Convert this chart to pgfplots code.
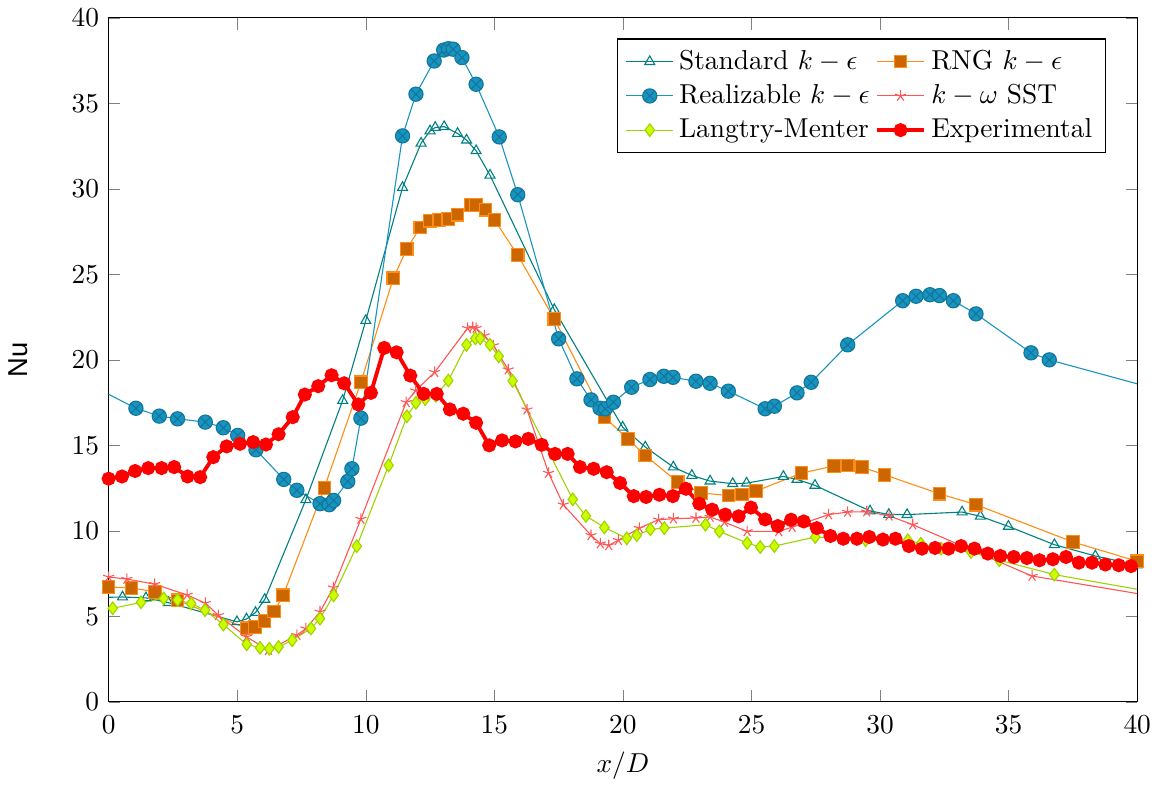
\documentclass[border=0pt]{standalone}
\usepackage{fontspec}
\usepackage{pgfplots}
\pgfplotsset{compat=1.18}
\newfontfamily\nufont{Liberation Sans}
\definecolor{stdke}{RGB}{0,128,128}
\definecolor{realke}{RGB}{23,148,192}
\definecolor{rngline}{RGB}{255,140,20}
\definecolor{rngfill}{RGB}{204,102,0}
\definecolor{sstc}{RGB}{255,85,85}
\definecolor{lmline}{RGB}{160,210,0}
\definecolor{lmfill}{RGB}{204,255,0}
\begin{document}
\begin{tikzpicture}
\begin{axis}[
  scale only axis,
  width=376pt, height=250pt,
  xmin=0, xmax=40, ymin=0, ymax=40,
  xtick={0,5,...,40}, ytick={0,5,...,40},
  xlabel={$x/D$}, ylabel={\nufont Nu},
  ylabel shift=9pt,
  xticklabel style={yshift=-1.5pt},
  legend columns=2,
  legend pos=north east,
  legend cell align=left,
]
\addplot[color=stdke, mark=triangle, mark size=2.1pt, mark options={solid,fill=white}] coordinates {
(-0.5,6.1) (0.54,6.13) (1.45,6.08) (2.32,5.8) (4.99,4.68) (5.36,4.84) (5.71,5.22) (6.07,5.99) (7.67,11.82) (9.1,17.62) (10.0,22.3)
(11.43,30.08) (12.15,32.67) (12.5,33.39) (12.7,33.59) (13.05,33.64) (13.57,33.24) (13.92,32.85) (14.29,32.23) (14.83,30.8)
(17.33,22.94) (19.99,16.06) (20.87,14.9) (21.96,13.73) (22.68,13.24) (23.39,12.91) (24.27,12.76) (24.81,12.79) (26.24,13.18)
(26.77,13.01) (27.47,12.66) (29.61,11.16) (30.34,10.96) (31.05,10.95) (33.19,11.1) (33.9,10.85) (34.99,10.26) (36.78,9.19)
(38.37,8.53) (40,8.0)
};
\addlegendentry{Standard $k-\epsilon$}
\addplot[color=rngline, mark=square*, mark size=2.3pt, mark options={fill=rngfill, draw=rngline}] coordinates {
(0,6.72) (0.89,6.66) (1.8,6.43) (2.68,5.94) (5.36,4.3) (5.7,4.38) (6.06,4.72) (6.43,5.28) (6.79,6.23) (8.39,12.52) (9.81,18.69)
(11.07,24.77) (11.59,26.48) (12.12,27.75) (12.5,28.14) (12.86,28.19) (13.21,28.23) (13.57,28.49) (14.09,29.05) (14.29,29.05)
(14.65,28.78) (15.0,28.19) (15.91,26.13) (17.33,22.39) (19.28,16.65) (20.19,15.38) (20.87,14.41) (22.13,12.85) (23.04,12.21)
(24.1,12.07) (24.63,12.13) (25.18,12.33) (26.95,13.38) (28.2,13.79) (28.74,13.83) (29.29,13.73) (30.17,13.28) (32.31,12.17)
(33.73,11.53) (37.5,9.35) (40,8.22)
};
\addlegendentry{RNG $k-\epsilon$}
\addplot[color=realke, mark=otimes*, mark size=2.6pt, mark options={fill=realke, draw=realke!80!black}] coordinates {
(-0.5,18.37) (1.06,17.17) (1.97,16.71) (2.68,16.55) (3.76,16.36) (4.46,16.03) (5.02,15.58) (5.73,14.74) (6.81,13.01) (7.32,12.37)
(8.22,11.59) (8.58,11.53) (8.75,11.78) (9.3,12.89) (9.46,13.63) (9.81,16.59) (11.43,33.1) (11.95,35.54) (12.66,37.48) (13.03,38.12)
(13.22,38.2) (13.4,38.17) (13.74,37.68) (14.29,36.12) (15.19,33.04) (15.91,29.66) (17.5,21.23) (18.21,18.89) (18.76,17.66)
(19.11,17.17) (19.32,17.14) (19.63,17.52) (20.34,18.4) (21.05,18.85) (21.59,19.04) (21.95,18.98) (22.84,18.75) (23.39,18.63)
(24.1,18.17) (25.53,17.14) (25.89,17.29) (26.77,18.07) (27.32,18.69) (28.74,20.88) (30.88,23.46) (31.4,23.72) (31.94,23.81)
(32.31,23.76) (32.85,23.46) (33.73,22.69) (35.87,20.41) (36.58,20.0) (42,17.78)
};
\addlegendentry{Realizable $k-\epsilon$}
\addplot[color=sstc, mark=star, mark size=2.1pt] coordinates {
(0,7.3) (0.71,7.18) (1.79,6.88) (3.05,6.25) (3.76,5.77) (4.27,5.06) (5.36,3.8) (6.22,3.02) (7.32,3.9) (7.67,4.28) (8.22,5.26)
(8.74,6.68) (9.81,10.69) (11.57,17.52) (11.94,18.2) (12.68,19.28) (13.96,21.85) (14.16,21.9) (14.29,21.85) (14.61,21.42)
(14.96,20.84) (15.54,19.43) (16.27,17.09) (17.11,13.38) (17.68,11.53) (18.76,9.74) (19.12,9.25) (19.45,9.15) (19.82,9.45)
(20.64,10.16) (21.39,10.65) (21.96,10.71) (22.84,10.75) (23.39,10.81) (23.95,10.51) (24.83,9.97) (26.06,9.97) (26.58,10.22)
(28.0,10.95) (28.74,11.1) (29.48,11.12) (30.35,10.88) (31.27,10.36) (35.91,7.36) (42,5.83)
};
\addlegendentry{$k-\omega$ SST}
\addplot[color=lmline, mark=diamond*, mark size=2.3pt, mark options={fill=lmfill, draw=lmline}] coordinates {
(0.16,5.47) (1.26,5.82) (2.14,6.05) (2.68,5.96) (3.21,5.75) (3.75,5.36) (4.46,4.52) (5.37,3.36) (5.89,3.16) (6.25,3.1) (6.61,3.21)
(7.14,3.6) (7.87,4.29) (8.22,4.87) (8.75,6.23) (9.65,9.1) (10.89,13.83) (11.6,16.7) (11.95,17.49) (12.31,17.7) (12.72,17.9)
(13.21,18.79) (13.92,20.88) (14.26,21.26) (14.45,21.26) (14.83,20.88) (15.17,20.21) (15.71,18.77) (18.05,11.84) (18.56,10.87)
(19.28,10.2) (20.15,9.56) (20.54,9.74) (21.07,10.09) (21.61,10.16) (23.21,10.36) (23.75,9.97) (24.83,9.29) (25.34,9.05)
(25.89,9.11) (27.48,9.64) (29.44,9.45) (31.08,9.45) (31.59,9.25) (32.37,8.96) (33.54,8.76) (34.64,8.28) (36.78,7.44) (42,6.05)
};
\addlegendentry{Langtry-Menter}
\addplot[color=red, line width=1.4pt, mark=*, mark size=1.85pt, mark options={fill=red}] coordinates {
(0,13.05) (0.52,13.18) (1.03,13.5) (1.54,13.67) (2.06,13.67) (2.55,13.73) (3.07,13.18) (3.56,13.14) (4.07,14.31) (4.59,14.94)
(5.11,15.09) (5.62,15.19) (6.12,15.05) (6.61,15.65) (7.16,16.65) (7.63,17.97) (8.15,18.46) (8.67,19.1) (9.16,18.63) (9.71,17.39)
(10.2,18.07) (10.72,20.7) (11.2,20.44) (11.73,19.08) (12.25,18.01) (12.76,18.01) (13.27,17.1) (13.79,16.85) (14.29,16.32)
(14.8,15.0) (15.3,15.29) (15.82,15.23) (16.32,15.38) (16.84,15.03) (17.36,14.5) (17.85,14.5) (18.33,13.73) (18.86,13.63)
(19.37,13.43) (19.89,12.8) (20.42,12.03) (20.9,11.98) (21.42,12.11) (21.94,12.03) (22.45,12.46) (22.97,11.59) (23.47,11.24)
(23.98,10.95) (24.5,10.85) (24.98,11.36) (25.53,10.67) (26.02,10.28) (26.54,10.65) (27.03,10.55) (27.54,10.16) (28.07,9.7)
(28.57,9.54) (29.1,9.54) (29.58,9.64) (30.11,9.49) (30.6,9.54) (31.12,9.11) (31.63,8.96) (32.14,9.0) (32.66,8.96) (33.15,9.11)
(33.67,8.96) (34.19,8.67) (34.68,8.53) (35.2,8.47) (35.71,8.41) (36.2,8.28) (36.72,8.34) (37.23,8.47) (37.73,8.14) (38.24,8.14)
(38.76,8.03) (39.28,7.99) (39.76,7.94)
};
\addlegendentry{Experimental}
\end{axis}
\end{tikzpicture}
\end{document}
